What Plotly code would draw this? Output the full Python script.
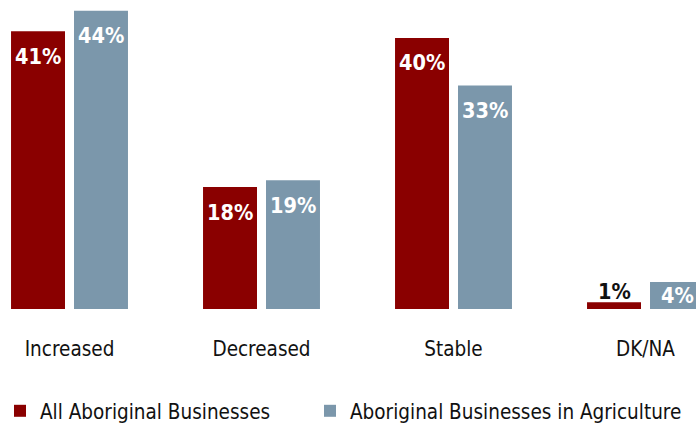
import plotly.graph_objects as go

# Change in business activity, share of respondents by answer
categories = ["Increased", "Decreased", "Stable", "DK/NA"]
all_aboriginal = [41, 18, 40, 1]
agriculture = [44, 19, 33, 4]
series_names = ["All Aboriginal Businesses", "Aboriginal Businesses in Agriculture"]

RED = "#8A0000"
BLUE = "#7B97AB"
FONT = "DejaVu Sans Condensed, Liberation Sans Narrow, sans-serif"

fig = go.Figure()
fig.add_trace(go.Bar(x=categories, y=all_aboriginal, name=series_names[0],
                     marker=dict(color=RED, line=dict(width=0)), legend="legend"))
fig.add_trace(go.Bar(x=categories, y=agriculture, name=series_names[1],
                     marker=dict(color=BLUE, line=dict(width=0)), legend="legend2"))

# Value labels: inside near the top of each bar; the tiny bar gets its label above
BAR_OFFSET = 31.5  # half the slot width in px
annotations = []
for values, shift_x in ((all_aboriginal, -BAR_OFFSET), (agriculture, BAR_OFFSET)):
    for cat, v in zip(categories, values):
        if v < 3:
            color, yshift = "#111111", 11
        elif v < 10:
            color, yshift = "white", -14
        else:
            color, yshift = "white", -25
        annotations.append(dict(
            x=cat, y=v, xref="x", yref="y", text=f"<b>{v}%</b>",
            showarrow=False, xshift=shift_x, yshift=yshift,
            xanchor="center", yanchor="middle",
            font=dict(family=FONT, size=21.5, color=color),
        ))

legend_style = dict(orientation="h", xanchor="left", y=-0.33, yanchor="middle",
                    font=dict(size=20.5, color="#111111"),
                    bgcolor="rgba(0,0,0,0)", itemclick=False)

fig.update_layout(
    width=696, height=426,
    margin=dict(l=0, r=0, t=0, b=117, pad=0, autoexpand=False),
    paper_bgcolor="white", plot_bgcolor="white",
    barmode="group", bargap=0.344, bargroupgap=0.143,
    font=dict(family=FONT, size=20.5, color="#111111"),
    xaxis=dict(range=[-0.362, 3.263], showgrid=False, zeroline=False,
               showline=False, ticks="", tickfont=dict(size=20.5, color="#111111"),
               ticklabelstandoff=25),
    yaxis=dict(range=[0, 45.6], visible=False, showgrid=False, zeroline=False),
    legend=dict(x=0.0, **legend_style),
    legend2=dict(x=0.4454, **legend_style),
    annotations=annotations,
    showlegend=True,
)

fig.write_html("out.html")
